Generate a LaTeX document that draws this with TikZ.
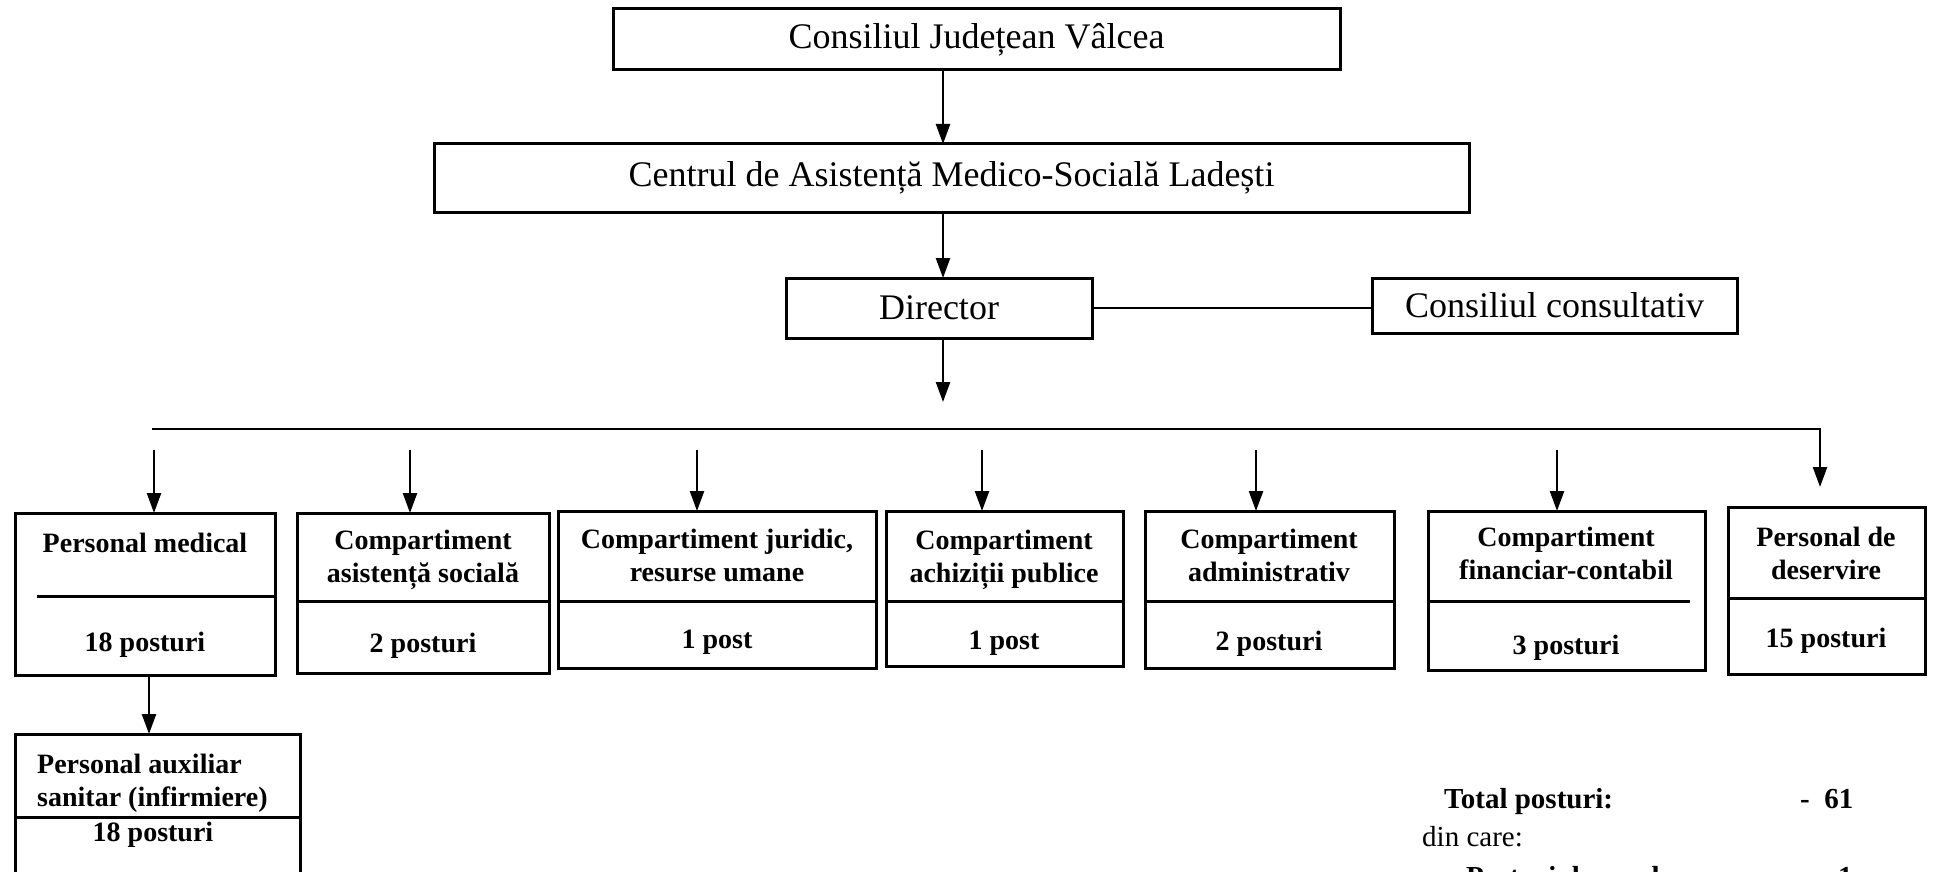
\documentclass[tikz,border=0pt]{standalone}
\usepackage{fontspec}
\setmainfont{Liberation Serif}
\usetikzlibrary{arrows.meta}
\begin{document}
\begin{tikzpicture}[x=1pt,y=-1pt,
  box/.style={draw, line width=3pt, inner sep=0pt, outer sep=0pt, anchor=north west},
  div/.style={line width=3pt},
  arr/.style={line width=2.4pt, -{Triangle[length=20pt,width=14pt]}},
  ln/.style={line width=2.4pt},
  big/.style={font=\fontsize{36}{40}\selectfont},
  bt/.style={font=\fontsize{28}{33}\selectfont\bfseries, align=center, anchor=base, inner sep=0pt},
  tt/.style={font=\fontsize{29}{38}\selectfont, anchor=base west, inner sep=0pt},
]
\fill[white] (0,0) rectangle (1935,872);
\useasboundingbox (0,0) rectangle (1935,872);
\clip (0,0) rectangle (1935,872);

% top levels
\node[box, big, minimum width=727pt, minimum height=61pt] (top) at (613,9) {Consiliul Județean Vâlcea};
\node[box, big, minimum width=1035pt, minimum height=68pt] (cen) at (434,144) {Centrul de Asistență Medico-Socială Ladești};
\node[box, big, minimum width=306pt, minimum height=60pt] (dir) at (786,278) {Director};
\node[box, big, minimum width=365pt, minimum height=55pt] (cons) at (1372,278) {Consiliul consultativ};

\coordinate (ax) at (943,0);
\draw[arr] (top.south -| ax) -- (cen.north -| ax);
\draw[arr] (cen.south -| ax) -- (dir.north -| ax);
\coordinate (dd) at (943,402);
\draw[arr] (dir.south -| ax) -- (dd);
\draw[ln] (dir.east) -- (dir.east -| cons.west);

% department boxes
\node[box, minimum width=260pt, minimum height=162pt] (b1) at (15,513) {};
\node[box, minimum width=252pt, minimum height=160pt] (b2) at (297,513) {};
\node[box, minimum width=318pt, minimum height=157pt] (b3) at (558,511) {};
\node[box, minimum width=237pt, minimum height=155pt] (b4) at (886,511) {};
\node[box, minimum width=249pt, minimum height=157pt] (b5) at (1145,511) {};
\node[box, minimum width=277pt, minimum height=159pt] (b6) at (1428,511) {};
\node[box, minimum width=197pt, minimum height=167pt] (b7) at (1728,507) {};
\node[box, minimum width=285pt, minimum height=170pt] (aux) at (15,734) {};

% dividers
\draw[div] (37,596) -- (b1.east |- 0,596);
\draw[div] (b2.west |- 0,601) -- (b2.east |- 0,601);
\draw[div] (b3.west |- 0,601) -- (b3.east |- 0,601);
\draw[div] (b4.west |- 0,601) -- (b4.east |- 0,601);
\draw[div] (b5.west |- 0,601) -- (b5.east |- 0,601);
\draw[div] (b6.west |- 0,601) -- (1690,601);
\draw[div] (b7.west |- 0,598) -- (b7.east |- 0,598);
\draw[div] (aux.west |- 0,817) -- (aux.east |- 0,817);

% texts (base anchor = baseline of last line)
\node[bt] (t1) at (145,552) {Personal medical};
\node[bt] (n1) at (145,651) {18 posturi};
\node[bt] (t2) at (423,582) {Compartiment\\asistență socială};
\node[bt] (n2) at (423,652) {2 posturi};
\node[bt] (t3) at (717,581) {Compartiment juridic,\\resurse umane};
\node[bt] (n3) at (717,648) {1 post};
\node[bt] (t4) at (1004,582) {Compartiment\\achiziții publice};
\node[bt] (n4) at (1004,649) {1 post};
\node[bt] (t5) at (1269,581) {Compartiment\\administrativ};
\node[bt] (n5) at (1269,650) {2 posturi};
\node[bt] (t6) at (1566,579) {Compartiment\\financiar-contabil};
\node[bt] (n6) at (1566,654) {3 posturi};
\node[bt] (t7) at (1826,579) {Personal de\\deservire};
\node[bt] (n7) at (1826,647) {15 posturi};
\node[bt, align=left, anchor=base west] (ta) at (37,806) {Personal auxiliar\\sanitar (infirmiere)};
\node[bt] (na) at (153,841) {18 posturi};

% bus and arrows
\coordinate (busL) at (152,429);
\coordinate (busR) at (1820,429);
\draw[arr, shorten >=20pt] (busL) -- (busR) -- (busR |- b7.north);
\coordinate (s1) at (154,450);
\coordinate (s2) at (410,450);
\coordinate (s3) at (697,450);
\coordinate (s4) at (982,450);
\coordinate (s5) at (1256,450);
\coordinate (s6) at (1557,450);
\draw[arr] (s1) -- (s1 |- b1.north);
\draw[arr] (s2) -- (s2 |- b2.north);
\draw[arr] (s3) -- (s3 |- b3.north);
\draw[arr] (s4) -- (s4 |- b4.north);
\draw[arr] (s5) -- (s5 |- b5.north);
\draw[arr] (s6) -- (s6 |- b6.north);
\coordinate (ma) at (149,0);
\draw[arr] (b1.south -| ma) -- (aux.north -| ma);

% totals
\node[tt, font=\fontsize{29}{38}\selectfont\bfseries] (tot) at (1444,808) {Total posturi:};
\node[tt, font=\fontsize{29}{38}\selectfont\bfseries] (totn) at (1800,808) {-\ \ 61};
\node[tt] (din) at (1422,846) {din care:};
\node[tt, font=\fontsize{29}{38}\selectfont\bfseries] (cond) at (1466,886) {Posturi de conducere:};
\node[tt, font=\fontsize{29}{38}\selectfont\bfseries] (condn) at (1838,886) {1};
\end{tikzpicture}
\end{document}
